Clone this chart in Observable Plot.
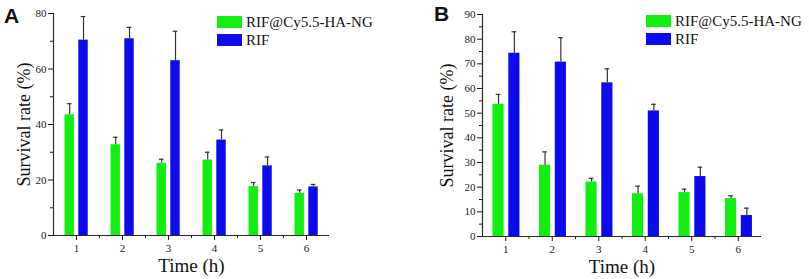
<!DOCTYPE html>
<html>
<head>
<meta charset="utf-8">
<script src="https://cdn.jsdelivr.net/npm/d3@7"></script>
<script src="https://cdn.jsdelivr.net/npm/@observablehq/plot@0.6"></script>
<style>
  html, body { margin: 0; padding: 0; background: #fff; }
  #wrap { position: relative; width: 809px; height: 279px; overflow: hidden; font-family: "Liberation Serif", "Times New Roman", serif; }
  .panel { position: absolute; top: 0; }
  .panel svg text { font-family: "Liberation Serif", "Times New Roman", serif; }
  .tag { position: absolute; font-family: "Liberation Sans", Arial, sans-serif; font-weight: bold; font-size: 21px; line-height: 1; color: #111; }
  .leg { position: absolute; font-size: 15px; color: #111; white-space: nowrap; }
  .leg .row { position: absolute; left: 0; display: flex; align-items: center; height: 12px; }
  .leg .sw { width: 25px; height: 12px; margin-right: 4px; }
</style>
</head>
<body>
<div id="wrap"></div>
<script>
// ---- data ----
const times = [1, 2, 3, 4, 5, 6];
const seriesNames = ["RIF@Cy5.5-HA-NG", "RIF"];
const seriesColors = ["#12ee12", "#0b0bee"];

// Panel A
const aNG     = [43.5, 32.7, 26.0, 27.2, 17.6, 15.2];
const aNGErr  = [4.0, 2.7, 1.5, 2.8, 1.5, 1.2];
const aRIF    = [70.4, 70.9, 63.0, 34.4, 25.1, 17.5];
const aRIFErr = [8.5, 4.1, 10.6, 3.6, 3.2, 0.9];
const aYTicks = [0, 20, 40, 60, 80];
const aYMinor = [10, 30, 50, 70];

// Panel B
const bNG     = [53.6, 28.9, 22.1, 17.3, 17.8, 15.4];
const bNGErr  = [4.0, 5.4, 1.5, 3.1, 1.4, 1.1];
const bRIF    = [74.3, 70.7, 62.3, 50.9, 24.3, 8.5];
const bRIFErr = [8.7, 9.9, 5.7, 2.7, 3.8, 3.0];
const bYTicks = [0, 10, 20, 30, 40, 50, 60, 70, 80, 90];
const bYMinor = [5, 15, 25, 35, 45, 55, 65, 75, 85];

const xMinor = [1.5, 2.5, 3.5, 4.5, 5.5];
const xTitle = "Time (h)";
const yTitle = "Survival rate (%)";

const SERIF = "Liberation Serif, Times New Roman, serif";

function makePanel(cfg) {
  const rows = [];
  times.forEach((t, i) => {
    rows.push({t, s: 0, v: cfg.ng[i], e: cfg.ngErr[i]});
    rows.push({t, s: 1, v: cfg.rif[i], e: cfg.rifErr[i]});
  });
  const lo = d => d.t + cfg.off[d.s][0];
  const hi = d => d.t + cfg.off[d.s][1];
  const mid = d => (lo(d) + hi(d)) / 2;
  const ink = "#2a2a2a";
  return Plot.plot({
    width: cfg.width,
    height: 279,
    marginLeft: cfg.ml,
    marginRight: cfg.mr,
    marginTop: cfg.mt,
    marginBottom: cfg.mb,
    style: {fontFamily: SERIF, fontSize: "11px", color: "#1a1a1a", background: "transparent", overflow: "visible"},
    x: {domain: [0.5, 6.5]},
    y: {domain: cfg.yDomain},
    marks: [
      Plot.rect(rows, {x1: lo, x2: hi, y1: () => 0, y2: "v", fill: d => seriesColors[d.s]}),
      Plot.ruleX(rows, {x: mid, y1: "v", y2: d => d.v + d.e, stroke: "#333", strokeWidth: 1.2}),
      Plot.ruleY(rows, {y: d => d.v + d.e, x1: d => mid(d) - cfg.cap, x2: d => mid(d) + cfg.cap, stroke: "#333", strokeWidth: 1.2}),
      Plot.ruleX([0.5], {stroke: ink, strokeWidth: 1.2}),
      Plot.ruleY([0], {stroke: ink, strokeWidth: 1.2}),
      Plot.axisY({ticks: cfg.yTicks, tickSize: 5, tickPadding: 2, label: null, tickFormat: d3.format("d"), fontFamily: SERIF, fontSize: 11}),
      Plot.axisY({ticks: cfg.yMinor, tickSize: 3, label: null, tickFormat: () => ""}),
      Plot.axisX({ticks: times, tickSize: 5, tickPadding: 4, label: null, tickFormat: d3.format("d"), fontFamily: SERIF, fontSize: 11}),
      Plot.axisX({ticks: xMinor, tickSize: 3, label: null, tickFormat: () => ""}),
      Plot.text([yTitle], {frameAnchor: "left", rotate: -90, dx: -cfg.yTitleOff, textAnchor: "middle", lineAnchor: "middle", fontSize: 18, fontFamily: SERIF, fill: "#111"}),
      Plot.text([xTitle], {frameAnchor: "bottom", dy: 30, textAnchor: "middle", lineAnchor: "middle", fontSize: 19, fontFamily: SERIF, fill: "#111"})
    ]
  });
}

const wrap = document.getElementById("wrap");

function addPanel(left, cfg, tag, tagPos, legPos) {
  const div = document.createElement("div");
  div.className = "panel";
  div.style.left = left + "px";
  div.appendChild(makePanel(cfg));
  wrap.appendChild(div);

  const tg = document.createElement("div");
  tg.className = "tag";
  tg.textContent = tag;
  tg.style.left = tagPos[0] + "px";
  tg.style.top = tagPos[1] + "px";
  wrap.appendChild(tg);

  const leg = document.createElement("div");
  leg.className = "leg";
  leg.style.left = legPos[0] + "px";
  leg.style.top = legPos[1] + "px";
  seriesNames.forEach((name, i) => {
    const row = document.createElement("div");
    row.className = "row";
    row.style.top = (i * 18) + "px";
    const sw = document.createElement("div");
    sw.className = "sw";
    sw.style.background = seriesColors[i];
    const tx = document.createElement("span");
    tx.textContent = name;
    row.appendChild(sw);
    row.appendChild(tx);
    leg.appendChild(row);
  });
  wrap.appendChild(leg);
}

addPanel(0, {
  width: 400, ml: 53, mr: 71, mt: 13, mb: 44,
  yDomain: [0, 80], yTicks: aYTicks, yMinor: aYMinor,
  ng: aNG, ngErr: aNGErr, rif: aRIF, rifErr: aRIFErr,
  off: [[-0.25, -0.045], [0.05, 0.255]], cap: 0.05, yTitleOff: 29
}, "A", [4, 5], [217, 16]);

addPanel(400, {
  width: 409, ml: 82, mr: 48, mt: 14, mb: 43,
  yDomain: [0, 90], yTicks: bYTicks, yMinor: bYMinor,
  ng: bNG, ngErr: bNGErr, rif: bRIF, rifErr: bRIFErr,
  off: [[-0.275, -0.035], [0.065, 0.305]], cap: 0.05, yTitleOff: 35
}, "B", [434, 3], [646, 15]);
</script>
</body>
</html>
